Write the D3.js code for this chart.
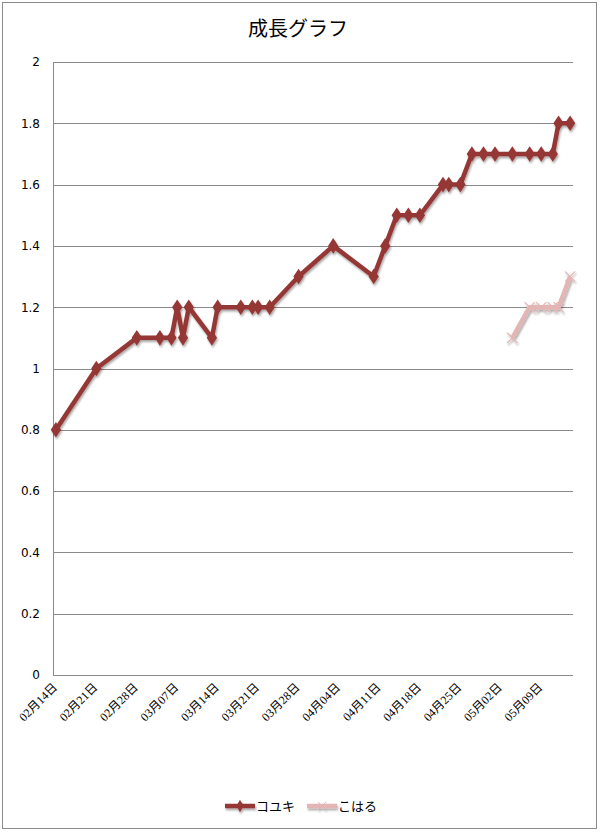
<!DOCTYPE html>
<html><head><meta charset="utf-8">
<script src="https://cdn.jsdelivr.net/npm/d3@7"></script>
<style>body{margin:0;background:#fff}</style>
</head><body>
<svg id="c" width="600" height="832"></svg>
<script>
const title = "成長グラフ";
const seriesNames = ["コユキ", "こはる"];
const koyukiDates = ["2011-02-14","2011-02-21","2011-02-28","2011-03-04","2011-03-06","2011-03-07","2011-03-08","2011-03-09","2011-03-13","2011-03-14","2011-03-18","2011-03-20","2011-03-21","2011-03-23","2011-03-28","2011-04-03","2011-04-10","2011-04-12","2011-04-14","2011-04-16","2011-04-18","2011-04-22","2011-04-23","2011-04-25","2011-04-27","2011-04-29","2011-05-01","2011-05-04","2011-05-07","2011-05-09","2011-05-11","2011-05-12","2011-05-14"];
const koyukiValues = [0.8,1.0,1.1,1.1,1.1,1.2,1.1,1.2,1.1,1.2,1.2,1.2,1.2,1.2,1.3,1.4,1.3,1.4,1.5,1.5,1.5,1.6,1.6,1.6,1.7,1.7,1.7,1.7,1.7,1.7,1.7,1.8,1.8];
const koharuDates = ["2011-05-04","2011-05-07","2011-05-09","2011-05-11","2011-05-12","2011-05-14"];
const koharuValues = [1.1,1.2,1.2,1.2,1.2,1.3];
const yTicks = [0,0.2,0.4,0.6,0.8,1,1.2,1.4,1.6,1.8,2];
const xTickDates = ["2011-02-14","2011-02-21","2011-02-28","2011-03-07","2011-03-14","2011-03-21","2011-03-28","2011-04-04","2011-04-11","2011-04-18","2011-04-25","2011-05-02","2011-05-09"];
const dateStart = "2011-02-14", dateEnd = "2011-05-14";

const parse = d3.utcParse("%Y-%m-%d");
const fmt = d3.utcFormat("%m月%d日");
const DAY = 864e5;
const svg = d3.select("#c");
const L = 53, R = 573, T = 62, B = 675;

const defs = svg.append("defs");
const f = defs.append("filter").attr("id","sh").attr("x","-20%").attr("y","-20%").attr("width","140%").attr("height","160%");
f.append("feDropShadow").attr("dx",1).attr("dy",2).attr("stdDeviation",1.3).attr("flood-color","#000").attr("flood-opacity",0.35);

// outer frame
svg.append("rect").attr("x",2.5).attr("y",2.5).attr("width",594).attr("height",826)
  .attr("fill","#fff").attr("stroke","#8c8c8c").attr("stroke-width",1);

svg.append("text").attr("x",298).attr("y",36).attr("text-anchor","middle")
  .attr("font-family","'Noto Sans CJK JP'").attr("font-size",20).attr("fill","#000").text(title);

const x = d3.scaleUtc().domain([new Date(parse(dateStart).getTime()-DAY/2), new Date(parse(dateEnd).getTime()+DAY/2)]).range([L,R]);
const y = d3.scaleLinear().domain([0,2]).range([B,T]);

// grid
svg.append("g").selectAll("line").data(yTicks).join("line")
  .attr("x1",L).attr("x2",R).attr("y1",d=>Math.round(y(d))+0.5).attr("y2",d=>Math.round(y(d))+0.5)
  .attr("stroke","#8a8a8a").attr("stroke-width",1);
svg.append("line").attr("x1",L+0.5).attr("x2",L+0.5).attr("y1",T).attr("y2",B+0.5).attr("stroke","#8a8a8a");

// y labels
const yAxis = d3.axisLeft(y).tickValues(yTicks).tickFormat(d3.format("")).tickSize(0).tickPadding(13);
const ya = svg.append("g").attr("transform",`translate(${L},0)`).call(yAxis);
ya.select(".domain").remove();
ya.selectAll("text").attr("font-family","'DejaVu Sans'").attr("font-size",12).attr("fill","#000");

// x labels (rotated -45°)
svg.append("g").selectAll("text").data(xTickDates.map(parse)).join("text")
  .attr("transform",d=>`translate(${x(d)+2},${B+13}) rotate(-45)`)
  .attr("text-anchor","end")
  .attr("font-family","'Liberation Serif','Noto Sans CJK JP'").attr("font-size",12).attr("fill","#000")
  .text(fmt);

const kData = koyukiDates.map((d,i)=>({d:parse(d),v:koyukiValues[i]}));
const hData = koharuDates.map((d,i)=>({d:parse(d),v:koharuValues[i]}));
const line = d3.line().x(p=>x(p.d)).y(p=>y(p.v));

const c1 = "#953735", c2 = "#e3b5b4";
const diamond = d3.symbol().type(d3.symbolDiamond).size(70);
const cross = d3.symbol().type(d3.symbolX).size(70);

const g1 = svg.append("g").attr("filter","url(#sh)");
g1.append("path").datum(kData).attr("d",line).attr("fill","none").attr("stroke",c1).attr("stroke-width",4.5).attr("stroke-linejoin","round");
g1.selectAll("path.m").data(kData).join("path").attr("class","m").attr("d",diamond)
  .attr("transform",p=>`translate(${x(p.d)},${y(p.v)}) scale(1.15,1)`).attr("fill",c1);

const g2 = svg.append("g").attr("filter","url(#sh)");
g2.append("path").datum(hData).attr("d",line).attr("fill","none").attr("stroke",c2).attr("stroke-width",4.5).attr("stroke-linejoin","round");
g2.selectAll("path.m").data(hData).join("path").attr("class","m").attr("d",cross)
  .attr("transform",p=>`translate(${x(p.d)},${y(p.v)})`).attr("fill","none").attr("stroke",c2).attr("stroke-width",1.2);

// legend
const lg = svg.append("g");
const items = [{name:seriesNames[0],c:c1,sym:diamond,x0:225,fill:true},{name:seriesNames[1],c:c2,sym:cross,x0:307,fill:false}];
items.forEach(it=>{
  const g = lg.append("g").attr("filter","url(#sh)");
  g.append("line").attr("x1",it.x0).attr("x2",it.x0+30).attr("y1",806).attr("y2",806).attr("stroke",it.c).attr("stroke-width",4.5);
  g.append("path").attr("d",it.sym).attr("transform",`translate(${it.x0+15},806) scale(0.8)`)
    .attr("fill",it.fill?it.c:"none").attr("stroke",it.fill?"none":it.c).attr("stroke-width",1.2);
  lg.append("text").attr("x",it.x0+31).attr("y",811).attr("font-family","'Noto Sans CJK JP'").attr("font-size",13).attr("fill","#000").text(it.name);
});
</script>
</body></html>
